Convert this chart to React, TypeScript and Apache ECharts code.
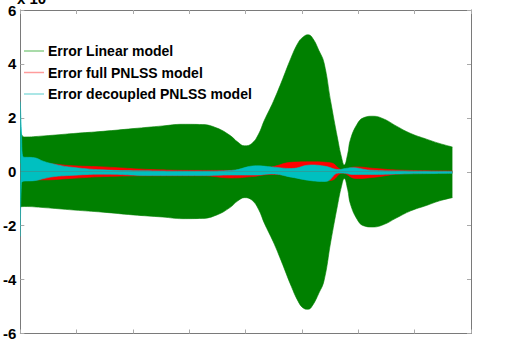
import React, { useEffect, useRef } from "react";
import * as echarts from "echarts";

// x positions (data units, axis 0..8) and envelope values (units of 10^n)
const greenX = [0, 0.07, 0.42, 0.95, 1.47, 2.0, 2.53, 2.88, 3.23, 3.49, 3.72, 3.86, 3.98, 4.11, 4.23, 4.33, 4.49, 4.63, 4.81, 4.93, 5.02, 5.11, 5.19, 5.3, 5.39, 5.51, 5.63, 5.7, 5.75, 5.81, 5.86, 5.98, 6.09, 6.26, 6.46, 6.67, 6.93, 7.21, 7.44, 7.67];
const greenUpper = [1.55, 1.29, 1.33, 1.42, 1.5, 1.6, 1.7, 1.76, 1.75, 1.62, 1.35, 1.1, 0.96, 1.05, 1.4, 1.9, 2.6, 3.3, 4.25, 4.78, 5.0, 5.08, 4.95, 4.5, 4.05, 2.6, 1.25, 0.55, 0.25, 0.65, 1.2, 1.77, 2.0, 2.06, 1.95, 1.7, 1.42, 1.21, 1.05, 0.92];
const greenLower = [-1.3, -1.29, -1.33, -1.42, -1.5, -1.6, -1.68, -1.74, -1.73, -1.6, -1.33, -1.08, -0.96, -1.05, -1.4, -1.9, -2.6, -3.3, -4.25, -4.8, -5.05, -5.1, -4.95, -4.5, -4.05, -2.6, -1.25, -0.55, -0.25, -0.65, -1.2, -1.77, -2.0, -2.05, -1.95, -1.72, -1.45, -1.25, -1.08, -0.96];

const redX = [0, 0.42, 0.95, 1.47, 2.35, 3.23, 3.75, 4.11, 4.46, 4.81, 5.16, 5.51, 5.72, 5.95, 6.3, 6.74, 7.67];
const redUpper = [0.3, 0.3, 0.22, 0.18, 0.08, 0.05, 0.05, 0.12, 0.18, 0.35, 0.37, 0.33, 0.08, 0.18, 0.12, 0.06, 0.03];
const redLower = [-0.3, -0.3, -0.24, -0.18, -0.15, -0.15, -0.23, -0.18, -0.1, -0.15, -0.26, -0.32, -0.05, -0.25, -0.2, -0.08, -0.04];

const cyanX = [0, 0.018, 0.05, 0.25, 0.42, 0.6, 0.86, 1.47, 2.35, 3.23, 3.75, 4.19, 4.46, 4.81, 5.16, 5.42, 5.65, 5.77, 5.89, 6.21, 6.74, 7.67];
const cyanUpper = [2.6, 1.6, 0.55, 0.52, 0.38, 0.28, 0.18, 0.07, 0.03, 0.02, 0.05, 0.22, 0.18, 0.12, 0.25, 0.2, 0.08, 0.12, 0.15, 0.06, 0.03, 0.01];
const cyanLower = [-2.4, -0.5, -0.35, -0.33, -0.25, -0.18, -0.14, -0.09, -0.14, -0.14, -0.12, -0.12, -0.08, -0.2, -0.33, -0.36, -0.05, -0.06, -0.1, -0.1, -0.08, -0.06];

const legendNames = ["Error Linear model", "Error full PNLSS model", "Error decoupled PNLSS model"];
const yTicks = { min: -6, max: 6, interval: 2 };
const xTicks = { min: 0, max: 8, interval: 1 };

const pairs = (xs: number[], ys: number[]) => xs.map((x, i) => [x, ys[i]]);

const FONT = "'Liberation Sans', Arial, sans-serif";

function band(name: string, color: string, xs: number[], ys: number[], z: number) {
  return {
    name,
    type: "line",
    data: pairs(xs, ys),
    symbol: "none",
    smooth: 0.45,
    z,
    lineStyle: { color, width: 0.6 },
    itemStyle: { color },
    areaStyle: { color, opacity: 1, origin: 0 },
  };
}

export default function App() {
  const ref = useRef<HTMLDivElement>(null);
  useEffect(() => {
    if (!ref.current) return;
    const chart = echarts.init(ref.current, undefined, { renderer: "svg" });
    const axisLine = { show: true, onZero: false, lineStyle: { color: "#7a7a7a", width: 1 } };
    const axisTick = { show: true, inside: true, length: 4, lineStyle: { color: "#aaaaaa" } };
    chart.setOption({
      animation: false,
      backgroundColor: "#ffffff",
      grid: { left: 16, right: 54, top: 10, bottom: 5, containLabel: false },
      xAxis: [
        { type: "value", ...xTicks, position: "bottom", axisLine, axisTick, axisLabel: { show: false }, splitLine: { show: false } },
        { type: "value", ...xTicks, position: "top", axisLine, axisTick, axisLabel: { show: false }, splitLine: { show: false } },
      ],
      yAxis: [
        {
          type: "value", ...yTicks, position: "left", axisLine, axisTick, splitLine: { show: false },
          axisLabel: { show: true, color: "#000", fontWeight: "bold", fontSize: 15, fontFamily: FONT, margin: 4 },
        },
        { type: "value", ...yTicks, position: "right", axisLine, axisTick, axisLabel: { show: false }, splitLine: { show: false } },
      ],
      legend: {
        show: true,
        orient: "vertical",
        left: 19,
        top: 39,
        itemWidth: 20,
        itemHeight: 1.5,
        itemGap: 7.5,
        icon: "rect",
        textStyle: { color: "#000", fontWeight: "bold", fontSize: 14, fontFamily: FONT, padding: [0, 0, 0, -1] },
        data: [
          { name: legendNames[0], itemStyle: { color: "#8ccf8c" } },
          { name: legendNames[1], itemStyle: { color: "#ff9c9c" } },
          { name: legendNames[2], itemStyle: { color: "#8fdede" } },
        ],
      },
      graphic: [
        {
          type: "text",
          x: 17,
          y: 6,
          style: { text: "x 10", font: `bold 15px ${FONT}`, fill: "#000", verticalAlign: "bottom", textVerticalAlign: "bottom" },
        },
      ],
      series: [
        band(legendNames[0], "#008000", greenX, greenUpper, 1),
        band(legendNames[0], "#008000", greenX, greenLower, 1),
        band(legendNames[1], "#ff0000", redX, redUpper, 2),
        band(legendNames[1], "#ff0000", redX, redLower, 2),
        band(legendNames[2], "#00c0c0", cyanX, cyanUpper, 3),
        band(legendNames[2], "#00c0c0", cyanX, cyanLower, 3),
      ],
    });
    return () => chart.dispose();
  }, []);
  return <div ref={ref} style={{ width: 525, height: 341, position: "absolute", left: 0, top: 0 }} />;
}
